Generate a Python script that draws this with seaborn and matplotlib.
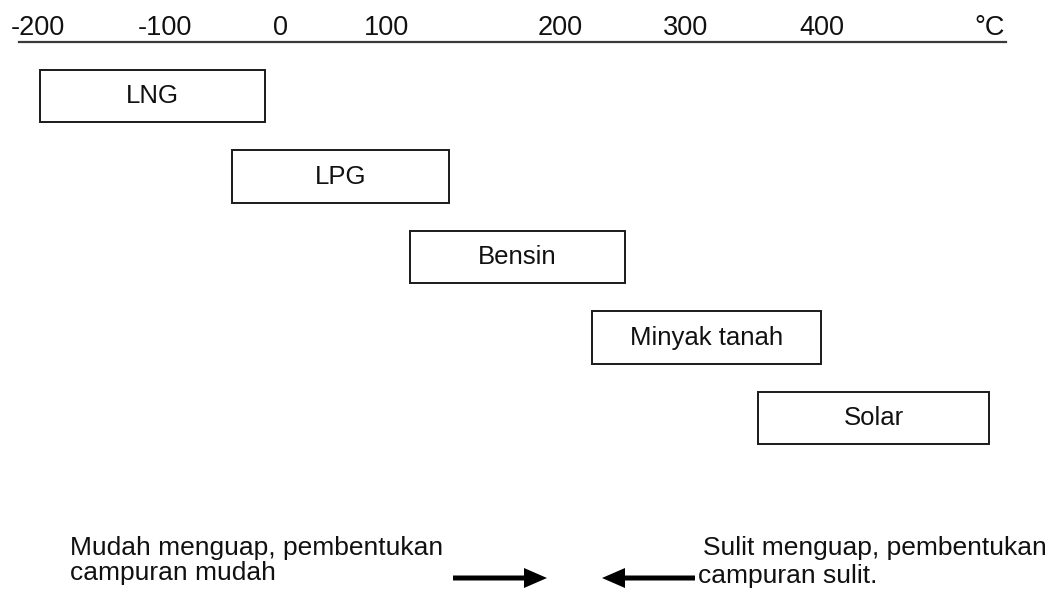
import matplotlib
matplotlib.use('Agg')
import matplotlib.pyplot as plt
import seaborn as sns

# temperature scale along the top (schematic, not linear)
tick_labels = ['-200', '-100', '0', '100', '200', '300', '400', '°C']
tick_pos = [38, 165, 280, 386, 560, 686, 822, 990]

# boiling ranges of each fuel, on the same scale
fuels = ['LNG', 'LPG', 'Bensin', 'Minyak tanah', 'Solar']
range_start = [40, 232, 410, 592, 758]
range_end = [265, 449, 625, 821, 989]

left_note = ['Mudah menguap, pembentukan', 'campuran mudah']
right_note = ['Sulit menguap, pembentukan', 'campuran sulit.']

W, H = 1055, 591

sns.set_theme(style='white')
plt.rcParams['font.family'] = ['Liberation Sans', 'DejaVu Sans']

fig = plt.figure(figsize=(W / 100, H / 100), dpi=100)
ax = fig.add_axes([19 / W, 0, (1006 - 19) / W, 1 - 42 / H])

spans = [e - s for s, e in zip(range_start, range_end)]
sns.barplot(x=spans, y=fuels, left=range_start, orient='h', color='white',
            saturation=1, edgecolor='#1a1a1a', linewidth=1.4, width=0.65,
            errorbar=None, ax=ax)

for i, (name, s, e) in enumerate(zip(fuels, range_start, range_end)):
    ax.text((s + e) / 2, i, name, ha='center', va='center', fontsize=18.5, color='#111111')

ax.set_xlim(19, 1006)
ax.set_ylim(6.149, -0.671)
ax.set_xticks(tick_pos, tick_labels)
ax.xaxis.tick_top()
ax.tick_params(axis='x', length=0, pad=0.5, labelsize=19.5, colors='#111111')
ax.set_yticks([])
ax.set_xlabel('')
ax.set_ylabel('')
sns.despine(ax=ax, top=False, right=True, left=True, bottom=True)
ax.spines['top'].set_color('#3a3a3a')
ax.spines['top'].set_linewidth(1.6)

# overlay in pixel units for the notes at the bottom
note = fig.add_axes([0, 0, 1, 1])
note.set_xlim(0, W)
note.set_ylim(H, 0)
note.axis('off')

note.text(70, 555, left_note[0], fontsize=19, va='baseline', color='#111111')
note.text(70, 580, left_note[1], fontsize=19, va='baseline', color='#111111')
note.text(703, 555, right_note[0], fontsize=19, va='baseline', color='#111111')
note.text(698, 583, right_note[1], fontsize=19, va='baseline', color='#111111')

note.arrow(453, 578, 94, 0, width=5, head_width=20, head_length=23,
           length_includes_head=True, color='black', lw=0)
note.arrow(695, 578, -93, 0, width=5, head_width=20, head_length=23,
           length_includes_head=True, color='black', lw=0)

fig.savefig('out.png', dpi=100)
